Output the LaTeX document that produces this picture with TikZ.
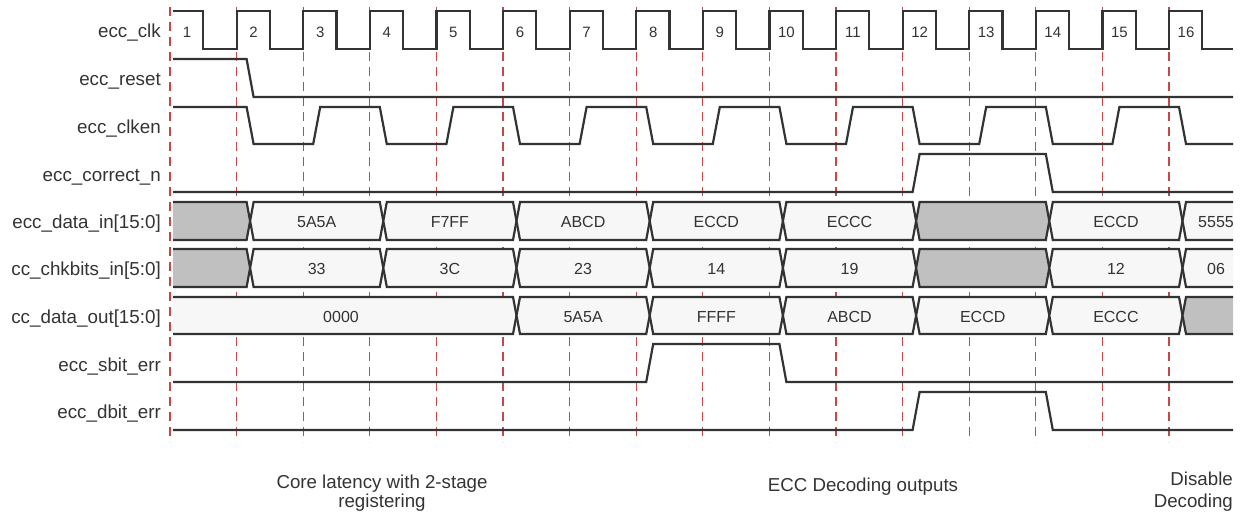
\documentclass[tikz,border=0pt]{standalone}
\usepackage{fontspec}
\setmainfont{Liberation Sans}
\definecolor{sigc}{HTML}{333333}
\definecolor{dashc}{RGB}{196,72,72}
\definecolor{busl}{HTML}{F7F7F7}
\definecolor{busg}{HTML}{C0C0C0}
\definecolor{txt}{HTML}{333333}
\tikzset{
  sig/.style={draw=sigc, line width=2.2pt, line join=miter},
  gridline/.style={draw=dashc, line width=1.1pt, dash pattern=on 9pt off 6pt},
  lab/.style={font=\fontsize{18.8}{20}\selectfont, text=txt, inner sep=0pt, anchor=base east},
  val/.style={font=\fontsize{16}{18}\selectfont, text=txt, inner sep=0pt, anchor=base},
  num/.style={font=\fontsize{15}{17}\selectfont, text=txt, inner sep=0pt, anchor=base},
  bt/.style={font=\fontsize{18.7}{20}\selectfont, text=txt, inner sep=0pt, anchor=base},
}
\newcommand\ex[1]{(170+(#1-1)*66.6)}
\newcommand\busseg[8]{% #1 L, #2 R, #3 top, #4 bottom, #5 fill, #6 text, #7 text x, #8 name
  \ifdim #1pt<180pt
    \fill[#5] (173,#3) -- ({#2-3.5},#3) -- (#2,{(#3+#4)/2}) -- ({#2-3.5},#4) -- (173,#4) -- cycle;
    \draw[sig] (173,#3) -- ({#2-3.5},#3) -- (#2,{(#3+#4)/2}) -- ({#2-3.5},#4) -- (173,#4);
  \else\ifdim #2pt>1220pt
    \fill[#5] (1233,#3) -- ({#1+3.5},#3) -- (#1,{(#3+#4)/2}) -- ({#1+3.5},#4) -- (1233,#4) -- cycle;
    \draw[sig] (1233,#3) -- ({#1+3.5},#3) -- (#1,{(#3+#4)/2}) -- ({#1+3.5},#4) -- (1233,#4);
  \else
    \filldraw[sig, fill=#5] (#1,{(#3+#4)/2}) -- ({#1+3.5},#3) -- ({#2-3.5},#3) -- (#2,{(#3+#4)/2}) -- ({#2-3.5},#4) -- ({#1+3.5},#4) -- cycle;
  \fi\fi
  \node[val] (#8) at (#7,{#3+25.5}) {#6};
}
\begin{document}
\begin{tikzpicture}[x=1pt,y=-1pt]
\useasboundingbox (0,0) rectangle (1246,514);
% grid
\foreach \k in {1,...,16} \draw[gridline] ({\ex{\k}},7) -- ({\ex{\k}},442);
% labels
\node[lab] (l1) at (161,37) {ecc\_clk};
\node[lab] (l2) at (161,85) {ecc\_reset};
\node[lab] (l3) at (161,133) {ecc\_clken};
\node[lab] (l4) at (161,181) {ecc\_correct\_n};
\node[lab] (l5) at (161,228) {ecc\_data\_in[15:0]};
\node[lab] (l6) at (161,275) {cc\_chkbits\_in[5:0]};
\node[lab] (l7) at (161,323) {cc\_data\_out[15:0]};
\node[lab] (l8) at (161,371) {ecc\_sbit\_err};
\node[lab] (l9) at (161,418) {ecc\_dbit\_err};
% clock
\draw[sig] (173,11) \foreach \k in {1,...,15}{ -- ({\ex{\k}+33.3},11) -- ({\ex{\k}+33.3},49) -- ({\ex{\k}+66.6},49) -- ({\ex{\k}+66.6},11)} -- ({\ex{16}+33.3},11) -- ({\ex{16}+33.3},49) -- (1233,49);
\foreach \k in {1,...,16} \node[num] (n\k) at ({\ex{\k}+17},37) {\k};
% reset
\draw[sig] (173,59) -- ({\ex{2}+10},59) -- ({\ex{2}+17},97) -- (1233,97);
% clken
\draw[sig] (173,107) \foreach \k in {2,4,...,14}{ -- ({\ex{\k}+10},107) -- ({\ex{\k}+17},144) -- ({\ex{\k}+76.6},144) -- ({\ex{\k}+83.6},107)} -- ({\ex{16}+10},107) -- ({\ex{16}+17},144) -- (1233,144);
% correct_n
\draw[sig] (173,192) -- ({\ex{12}+10},192) -- ({\ex{12}+17},154) -- ({\ex{14}+10},154) -- ({\ex{14}+17},192) -- (1233,192);
% data_in
\busseg{173}{250.1}{202}{240}{busg}{}{211}{a1}
\busseg{250.1}{383.3}{202}{240}{busl}{5A5A}{316.7}{a2}
\busseg{383.3}{516.5}{202}{240}{busl}{F7FF}{449.9}{a3}
\busseg{516.5}{649.7}{202}{240}{busl}{ABCD}{583.1}{a4}
\busseg{649.7}{782.9}{202}{240}{busl}{ECCD}{716.3}{a5}
\busseg{782.9}{916.1}{202}{240}{busl}{ECCC}{849.5}{a6}
\busseg{916.1}{1049.3}{202}{240}{busg}{}{982.7}{a7}
\busseg{1049.3}{1182.5}{202}{240}{busl}{ECCD}{1115.9}{a8}
\busseg{1182.5}{1233}{202}{240}{busl}{5555}{1216}{a9}
% chkbits
\busseg{173}{250.1}{249}{287}{busg}{}{211}{b1}
\busseg{250.1}{383.3}{249}{287}{busl}{33}{316.7}{b2}
\busseg{383.3}{516.5}{249}{287}{busl}{3C}{449.9}{b3}
\busseg{516.5}{649.7}{249}{287}{busl}{23}{583.1}{b4}
\busseg{649.7}{782.9}{249}{287}{busl}{14}{716.3}{b5}
\busseg{782.9}{916.1}{249}{287}{busl}{19}{849.5}{b6}
\busseg{916.1}{1049.3}{249}{287}{busg}{}{982.7}{b7}
\busseg{1049.3}{1182.5}{249}{287}{busl}{12}{1115.9}{b8}
\busseg{1182.5}{1233}{249}{287}{busl}{06}{1216}{b9}
% data_out
\busseg{173}{516.5}{297}{334}{busl}{0000}{341}{c1}
\busseg{516.5}{649.7}{297}{334}{busl}{5A5A}{583.1}{c2}
\busseg{649.7}{782.9}{297}{334}{busl}{FFFF}{716.3}{c3}
\busseg{782.9}{916.1}{297}{334}{busl}{ABCD}{849.5}{c4}
\busseg{916.1}{1049.3}{297}{334}{busl}{ECCD}{982.7}{c5}
\busseg{1049.3}{1182.5}{297}{334}{busl}{ECCC}{1115.9}{c6}
\busseg{1182.5}{1233}{297}{334}{busg}{}{1208}{c7}
% sbit
\draw[sig] (173,382) -- ({\ex{8}+10},382) -- ({\ex{8}+17},344) -- ({\ex{10}+10},344) -- ({\ex{10}+17},382) -- (1233,382);
% dbit
\draw[sig] (173,430) -- ({\ex{12}+10},430) -- ({\ex{12}+17},392) -- ({\ex{14}+10},392) -- ({\ex{14}+17},430) -- (1233,430);
% bottom texts
\node[bt] (t1) at (382,488) {Core latency with 2-stage};
\node[bt] (t2) at (382,507) {registering};
\node[bt] (t3) at (863,491) {ECC Decoding outputs};
\node[bt, anchor=base east] (t4) at (1233,485) {Disable};
\node[bt, anchor=base east] (t5) at (1233,507) {Decoding};
\end{tikzpicture}
\end{document}
